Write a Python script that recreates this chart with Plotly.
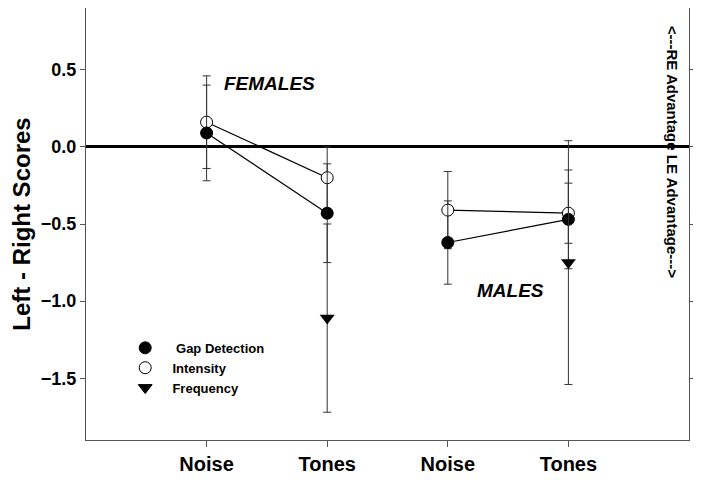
import plotly.graph_objects as go

# category positions and labels
tick_pos = [1, 2, 3, 4]
tick_text = ["Noise", "Tones", "Noise", "Tones"]
female_x = [1, 2]
male_x = [3, 4]

# gap detection (filled circles)
gap_female = [0.09, -0.43]
gap_female_err = [0.31, 0.32]
gap_male = [-0.62, -0.47]
gap_male_err = [0.27, 0.32]

# intensity (open circles)
int_female = [0.16, -0.20]
int_female_err = [0.30, 0.20]
int_male = [-0.41, -0.43]
int_male_err = [0.25, 0.195]

# frequency (triangles, tones only)
freq_x = [2, 4]
freq_y = [-1.11, -0.75]
freq_err = [0.61, 0.79]

FONT = "Liberation Sans, Arial, sans-serif"
ERR_COLOR = "#333333"
NB = "\u00a0"

fig = go.Figure()


def add_series(x, y, err, symbol, fill):
    fig.add_trace(go.Scatter(
        x=x, y=y,
        mode="lines+markers",
        line=dict(color="black", width=1.2),
        marker=dict(symbol=symbol, size=12, color=fill,
                    line=dict(color="black", width=1)),
        error_y=dict(type="data", array=err, color=ERR_COLOR,
                     thickness=1, width=4),
        showlegend=False,
        hoverinfo="skip",
    ))


add_series(female_x, int_female, int_female_err, "circle", "white")
add_series(male_x, int_male, int_male_err, "circle", "white")
add_series(female_x, gap_female, gap_female_err, "circle", "black")
add_series(male_x, gap_male, gap_male_err, "circle", "black")

fig.add_trace(go.Scatter(
    x=freq_x, y=freq_y,
    mode="markers",
    marker=dict(symbol="triangle-down", size=13, color="black"),
    error_y=dict(type="data", array=freq_err, color=ERR_COLOR,
                 thickness=1, width=4),
    showlegend=False,
    hoverinfo="skip",
))

# legend entries
legend_items = [
    (NB * 3 + "Gap Detection", "circle", "black"),
    (NB * 2 + "Intensity", "circle", "white"),
    (NB * 2 + "Frequency", "triangle-down", "black"),
]
for name, sym, fill in legend_items:
    fig.add_trace(go.Scatter(
        x=[None], y=[None], mode="markers", name=name,
        marker=dict(symbol=sym, size=12, color=fill,
                    line=dict(color="black", width=1)),
    ))

fig.add_annotation(x=1.52, y=0.41, text="FEMALES", showarrow=False,
                   font=dict(family=FONT, size=19, color="black",
                             weight="bold", style="italic"))
fig.add_annotation(x=3.52, y=-0.93, text="MALES", showarrow=False,
                   font=dict(family=FONT, size=19, color="black",
                             weight="bold", style="italic"))
fig.add_annotation(xref="paper", yref="paper", x=0.972, y=0.667,
                   xanchor="center", yanchor="middle",
                   text="<---RE Advantage LE Advantage--->",
                   textangle=90, showarrow=False,
                   font=dict(family=FONT, size=15, color="black",
                             weight="bold"))

# page body adds 8px offset, so the figure is sized to fit the window
fig.update_layout(
    width=693, height=474,
    margin=dict(l=78, r=12, t=0, b=42),
    plot_bgcolor="white",
    paper_bgcolor="white",
    font=dict(family=FONT, color="black"),
    legend=dict(x=0.065, y=0.248, xanchor="left", yanchor="top",
                bgcolor="rgba(0,0,0,0)", tracegroupgap=0,
                font=dict(family=FONT, size=13, weight="bold")),
    xaxis=dict(
        range=[0, 5], tickvals=tick_pos, ticktext=tick_text,
        showgrid=False, zeroline=False, automargin=False,
        showline=True, linecolor="#555555", linewidth=1.3, mirror=True,
        ticks="outside", ticklen=6, tickcolor="#555555",
        tickfont=dict(family=FONT, size=20, weight="bold"),
    ),
    yaxis=dict(
        range=[-1.9, 0.9], tickvals=[-1.5, -1.0, -0.5, 0.0, 0.5],
        tickformat=".1f",
        showgrid=False, automargin=False,
        zeroline=True, zerolinecolor="black", zerolinewidth=2.5,
        showline=True, linecolor="#555555", linewidth=1.3, mirror="ticks",
        ticks="outside", ticklen=5, tickcolor="#555555",
        tickfont=dict(family=FONT, size=18, weight="bold"),
        title=dict(text="Left - Right Scores", standoff=14,
                   font=dict(family=FONT, size=24, weight="bold")),
    ),
)

fig.write_html("out.html")
